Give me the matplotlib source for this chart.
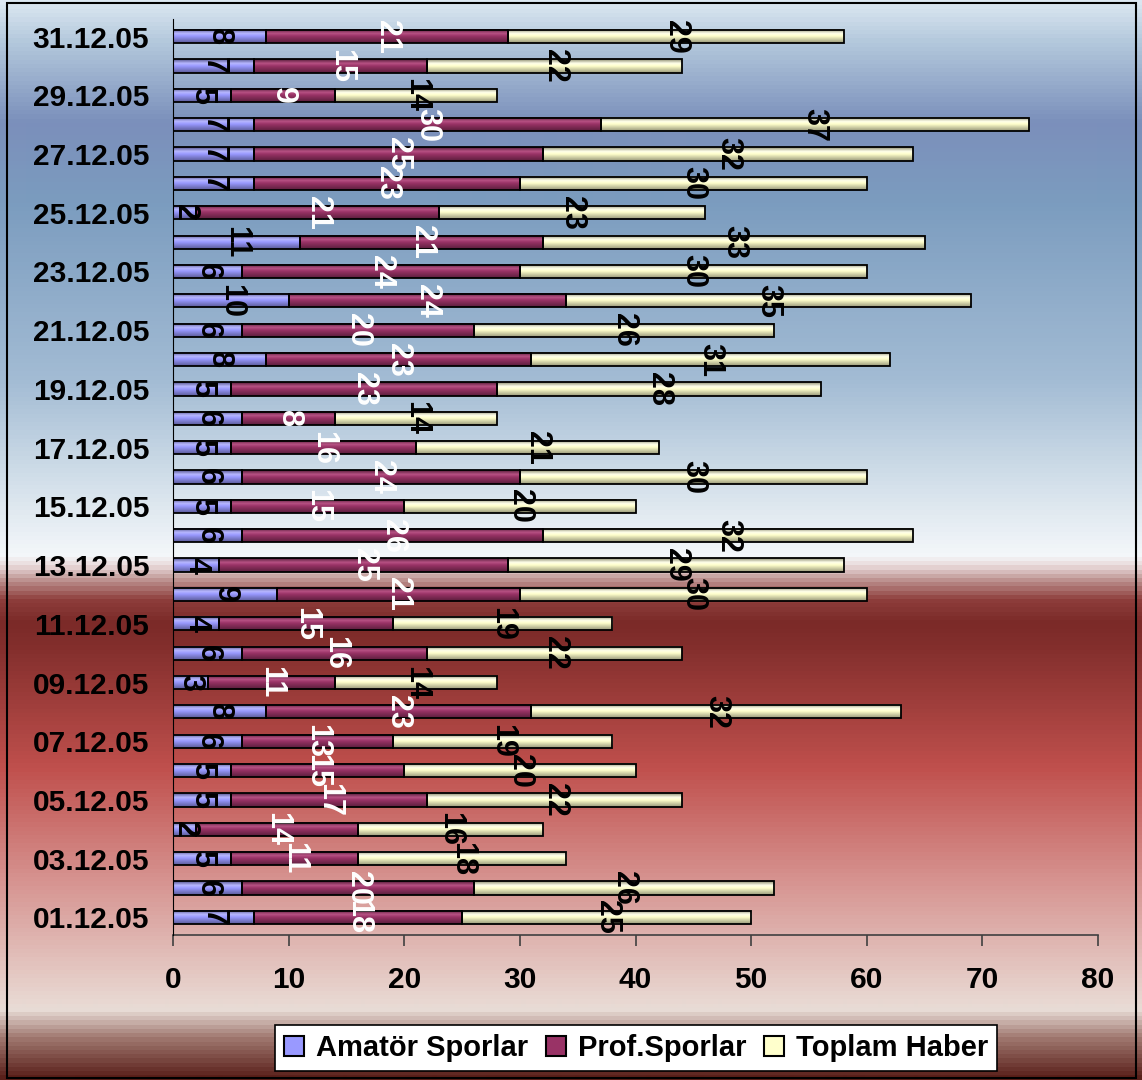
import numpy as np
import matplotlib
matplotlib.use("Agg")
from matplotlib import pyplot as plt
from matplotlib.colors import LinearSegmentedColormap, to_rgb
from matplotlib.patches import Patch, Rectangle

plt.rcParams['font.family'] = ['Liberation Sans', 'DejaVu Sans']

# data, 01.12.05 .. 31.12.05
dates = ["%02d.12.05" % d for d in range(1, 32)]
amator = [7, 6, 5, 2, 5, 5, 6, 8, 3, 6, 4, 9, 4, 6, 5, 6,
          5, 6, 5, 8, 6, 10, 6, 11, 2, 7, 7, 7, 5, 7, 8]
prof = [18, 20, 11, 14, 17, 15, 13, 23, 11, 16, 15, 21, 25, 26, 15, 24,
        16, 8, 23, 23, 20, 24, 24, 21, 21, 23, 25, 30, 9, 15, 21]
toplam = [25, 26, 18, 16, 22, 20, 19, 32, 14, 22, 19, 30, 29, 32, 20, 30,
          21, 14, 28, 31, 26, 35, 30, 33, 23, 30, 32, 37, 14, 22, 29]
series_names = ["Amatör Sporlar", "Prof.Sporlar", "Toplam Haber"]
colors = ["#9999ff", "#993366", "#ffffcc"]
label_colors = ["black", "white", "black"]

W, H = 1142, 1080
fig = plt.figure(figsize=(W / 100, H / 100), dpi=100)

# background gradient (pixel row from top, colour)
stops = [(0, "#dbe7f1"), (40, "#b3c8dc"), (120, "#7b8fbb"), (200, "#7b9cbf"),
         (380, "#a3bcd4"), (500, "#dce6ee"), (556, "#f4f7fa"), (566, "#e8d8d8"),
         (582, "#b88a88"), (600, "#8e3e3c"), (622, "#7b2a28"), (645, "#822e2c"),
         (770, "#c0504d"), (880, "#d6928f"), (1000, "#e8d6d0"), (1012, "#e8dcd6"),
         (1040, "#a07870"), (1080, "#5a201a")]
cmap = LinearSegmentedColormap.from_list("bg", [(p / H, c) for p, c in stops])
bg = fig.add_axes([0, 0, 1, 1], zorder=-10)
bg.imshow(np.linspace(0, 1, H).reshape(-1, 1), cmap=cmap, aspect='auto',
          extent=[0, 1, 0, 1], interpolation='bilinear')
bg.set_axis_off()

ax = fig.add_axes([173 / W, 1 - 935 / H, (1098 - 173) / W, (935 - 19) / H])
ax.set_facecolor('none')


def bar_cmap(c):
    # shaded look of the bars: darker rims, light band near the top
    r = np.array(to_rgb(c))
    dark = r * 0.55
    light = np.minimum(r * 1.0 + 0.12, 1)
    return LinearSegmentedColormap.from_list(
        "b", [(0, dark), (0.3, light), (0.5, r), (1, r * 0.6)])


bh = 0.45
y = np.arange(len(dates))
left = np.zeros(len(dates))
grad = np.linspace(0, 1, 40).reshape(-1, 1)
for vals, name, col, lc in zip([amator, prof, toplam], series_names, colors, label_colors):
    vals = np.array(vals)
    cm = bar_cmap(col)
    ax.barh(y, vals, left=left, height=bh, color='none', edgecolor='black',
            linewidth=1.3, label=name, zorder=3)
    for yi, l, v in zip(y, left, vals):
        ax.imshow(grad, cmap=cm, aspect='auto', interpolation='bilinear',
                  extent=[l, l + v, yi - bh / 2, yi + bh / 2], zorder=2)
        ax.text(l + v / 2, yi, str(v), rotation=-90, ha='center', va='center',
                color=lc, fontsize=22, fontweight='bold', zorder=5,
                family=['Liberation Sans Narrow', 'Liberation Sans'])
    left = left + vals

ax.set_xlim(0, 80)
ax.set_ylim(-0.6, 30.6)
ax.set_aspect('auto')
ax.set_xticks(range(0, 81, 10))
ax.set_yticks(y[::2])
ax.set_yticklabels(dates[::2])
ax.tick_params(axis='x', direction='out', length=8, width=1.2, color='#404040',
               pad=14, labelsize=21.5, labelcolor='black')
ax.tick_params(axis='y', length=0, pad=17, labelsize=21.5)
for t in ax.get_xticklabels() + ax.get_yticklabels():
    t.set_fontweight('bold')
for s in ['top', 'right']:
    ax.spines[s].set_visible(False)
ax.spines['left'].set_color('black')
ax.spines['left'].set_zorder(6)
ax.spines['bottom'].set_color('#404040')
ax.spines['bottom'].set_linewidth(1.2)

handles = [Patch(facecolor=c, edgecolor='black', linewidth=1.5) for c in colors]
leg = fig.legend(handles, series_names, loc='center', bbox_to_anchor=(636 / W, 1 - 1048 / H),
                 ncol=3, fancybox=False, edgecolor='black', framealpha=1,
                 prop={'weight': 'bold', 'size': 21}, handlelength=0.7, handleheight=0.7,
                 handletextpad=0.4, columnspacing=0.6, borderpad=0.3)
leg.get_frame().set_linewidth(1.2)

fig.patches.append(Rectangle((7 / W, 2 / H), (1136 - 7) / W, (1077 - 2) / H,
                             transform=fig.transFigure, fill=False,
                             edgecolor='black', linewidth=1.5))

fig.savefig("out.png", dpi=100)
